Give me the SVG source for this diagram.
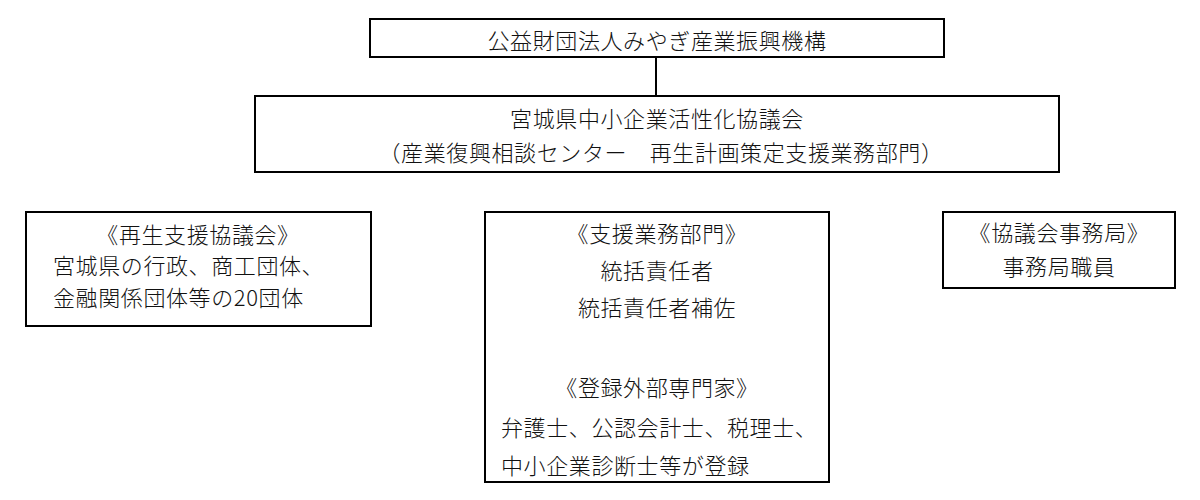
<svg xmlns="http://www.w3.org/2000/svg" width="1200" height="500" viewBox="0 0 1200 500">
<style>
rect.box{fill:#fff;stroke:#000;stroke-width:2}
text{font-family:"Noto Sans CJK JP","Noto Sans CJK SC",sans-serif;font-size:22px;font-weight:300;fill:#111;dominant-baseline:central;letter-spacing:0.6px}
.c{text-anchor:middle}
.conn{stroke:#000;stroke-width:2;fill:none}
</style>
<g id="connectors">
<line class="conn" x1="656" y1="57" x2="656" y2="96"/>
</g>
<g id="n1">
<rect class="box" x="370" y="19" width="574" height="38"/>
<text class="c" x="657" y="39">公益財団法人みやぎ産業振興機構</text>
</g>
<g id="n2">
<rect class="box" x="255" y="96" width="804" height="76"/>
<text class="c" x="657" y="117">宮城県中小企業活性化協議会</text>
<text class="c" x="661" y="151" letter-spacing="1.6">（産業復興相談センター　再生計画策定支援業務部門）</text>
</g>
<g id="n3">
<rect class="box" x="26" y="212" width="345" height="114"/>
<text class="c" x="198" y="233">《再生支援協議会》</text>
<text x="53" y="264">宮城県の行政、商工団体、</text>
<text x="53" y="296">金融関係団体等の20団体</text>
</g>
<g id="n4">
<rect class="box" x="485" y="212" width="344" height="270"/>
<text class="c" x="657" y="232">《支援業務部門》</text>
<text class="c" x="657" y="269">統括責任者</text>
<text class="c" x="657" y="306">統括責任者補佐</text>
<text class="c" x="657" y="386">《登録外部専門家》</text>
<text x="501" y="426">弁護士、公認会計士、税理士、</text>
<text x="501" y="464">中小企業診断士等が登録</text>
</g>
<g id="n5">
<rect class="box" x="943" y="212" width="232" height="76"/>
<text class="c" x="1059" y="231">《協議会事務局》</text>
<text class="c" x="1059" y="265">事務局職員</text>
</g>
</svg>
